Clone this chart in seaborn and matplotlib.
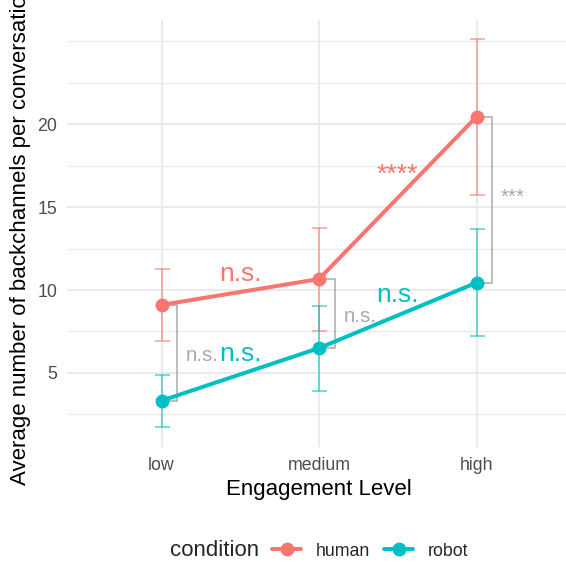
import numpy as np
import pandas as pd
import matplotlib
matplotlib.use("Agg")
import matplotlib.pyplot as plt
from matplotlib.lines import Line2D
from matplotlib.ticker import MultipleLocator, FixedLocator
import seaborn as sns

# ---------------- data ----------------
levels = ["low", "medium", "high"]
conditions = ["human", "robot"]
human_mean = [9.10, 10.66, 20.44]
human_lo = [6.95, 7.55, 15.74]
human_hi = [11.27, 13.73, 25.12]
robot_mean = [3.33, 6.50, 10.44]
robot_lo = [1.73, 3.93, 7.23]
robot_hi = [4.88, 9.02, 13.69]
# significance between adjacent levels within a condition
human_trend_labels = ["n.s.", "****"]
robot_trend_labels = ["n.s.", "n.s."]
# significance between conditions at each level
between_labels = ["n.s.", "n.s.", "***"]
y_major = [5, 10, 15, 20]

colors = {"human": "#F8766D", "robot": "#00BFC4"}
grey = "#A9A9A9"

df = pd.DataFrame({
    "level": levels * 2,
    "condition": ["human"] * 3 + ["robot"] * 3,
    "mean": human_mean + robot_mean,
    "lo": human_lo + robot_lo,
    "hi": human_hi + robot_hi,
})

sns.set_theme(style="whitegrid")
plt.rcParams["font.family"] = ["Liberation Sans", "DejaVu Sans"]

fig = plt.figure(figsize=(5.66, 5.62), dpi=100)
ax = fig.add_axes([67 / 566, 1 - 447 / 562, 504 / 566, 427 / 562])
ax.set_facecolor("white")

# error bars
for cond in conditions:
    sub = df[df.condition == cond]
    ax.errorbar(sub["level"], sub["mean"],
                yerr=[sub["mean"] - sub["lo"], sub["hi"] - sub["mean"]],
                fmt="none", ecolor=colors[cond], alpha=0.7,
                elinewidth=1.1, capsize=5.4, capthick=1.1, zorder=2)

# lines + points
sns.lineplot(data=df, x="level", y="mean", hue="condition", palette=colors,
             hue_order=conditions, marker="o", markersize=10, markeredgewidth=0,
             linewidth=2.9, ax=ax, legend=False, zorder=3)

xi = np.arange(len(levels))
hm = np.array(human_mean)
rm = np.array(robot_mean)


def star_shift(label):
    # asterisks sit high in the glyph box; lift them a little
    return 0.3 if set(label) == {"*"} else 0.0


# brackets between conditions
for i in xi:
    ax.plot([i, i + 0.1, i + 0.1, i], [hm[i], hm[i], rm[i], rm[i]],
            color=grey, lw=1.1, zorder=2.5, solid_joinstyle="miter")
    lab = between_labels[i]
    ax.text(i + 0.155, (hm[i] + rm[i]) / 2 - 0.5 + star_shift(lab), lab,
            color=grey, fontsize=14.8, ha="left", va="baseline", zorder=4)

# trend labels
for j in range(len(levels) - 1):
    lab = human_trend_labels[j]
    ax.text(j + 0.5, (hm[j] + hm[j + 1]) / 2 + 0.65 + star_shift(lab), lab,
            color=colors["human"], fontsize=19, ha="center", va="baseline", zorder=4)
    lab = robot_trend_labels[j]
    ax.text(j + 0.5, (rm[j] + rm[j + 1]) / 2 + 0.8 + star_shift(lab), lab,
            color=colors["robot"], fontsize=19, ha="center", va="baseline", zorder=4)

# axes styling
ax.set_xlim(-0.6, 2.6)
ax.set_ylim(0.54, 26.27)
ax.yaxis.set_major_locator(FixedLocator(y_major))
ax.yaxis.set_minor_locator(MultipleLocator(2.5))
ax.grid(True, which="major", color="#EBEBEB", lw=1.5)
ax.grid(True, which="minor", axis="y", color="#EBEBEB", lw=0.9)
ax.set_axisbelow(True)
for s in ax.spines.values():
    s.set_visible(False)
ax.tick_params(axis="both", which="both", length=0, labelsize=12.8, labelcolor="#4D4D4D")
ax.tick_params(axis="x", pad=7)
ax.tick_params(axis="y", pad=7)

ax.set_xlabel("Engagement Level", fontsize=16, color="black", va="center")
ax.xaxis.set_label_coords(0.5, (447 - 489) / 427)
ax.set_ylabel("Average number of backchannels per conversation", fontsize=16,
              color="black", va="center")
ax.yaxis.set_label_coords((21 - 67) / 504, 0.5)

# legend
handles = [Line2D([0], [0], color=colors[c], lw=2.9, marker="o", markersize=10,
                  markeredgewidth=0) for c in conditions]
fig.text(170 / 566, 1 - 551 / 562, "condition", fontsize=16, ha="left", va="center")
fig.legend(handles, conditions, loc="center", bbox_to_anchor=(370.5 / 566, 1 - 551 / 562),
           ncol=2, frameon=False, fontsize=12.8, handlelength=1.6, handletextpad=0.85,
           columnspacing=0.8, borderpad=0, borderaxespad=0)

fig.savefig("out.png", dpi=100)
